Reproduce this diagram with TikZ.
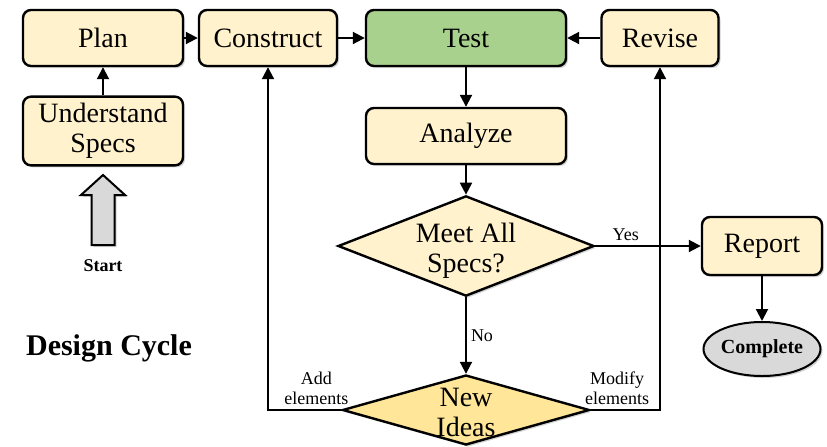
\documentclass[tikz,border=0pt]{standalone}
\usepackage{fontspec}
\setmainfont{Liberation Serif}
\usetikzlibrary{positioning,shapes.geometric,shadows,arrows.meta}

\definecolor{boxfill}{HTML}{FFF2CC}
\definecolor{testfill}{HTML}{A9D18E}
\definecolor{ideafill}{HTML}{FFE699}
\definecolor{endfill}{HTML}{D9D9D9}

\newcommand{\twolines}[2]{\smash{\raisebox{-6.5pt}{\begin{tabular}{@{}c@{}}#1\\#2\end{tabular}}}}

\tikzset{
  stage/.style={draw, line width=1.2pt, rounded corners=4pt, fill=boxfill,
    minimum height=28pt, align=center, font=\fontsize{14}{15}\selectfont,
    drop shadow={opacity=0.35, shadow xshift=1pt, shadow yshift=-1pt}},
  decision/.style={diamond, draw, line width=1.2pt, fill=boxfill, inner sep=0pt,
    font=\fontsize{14}{15}\selectfont,
    drop shadow={opacity=0.35, shadow xshift=1pt, shadow yshift=-1pt}},
  flow/.style={line width=1pt, -{Triangle[length=6pt,width=6pt]}},
  lbl/.style={font=\fontsize{9}{10}\selectfont, align=center, inner sep=2pt}
}

\begin{document}
\begin{tikzpicture}[node distance=2cm, on grid]
  \useasboundingbox (0,0) rectangle (413.5pt,-223pt);

  % top row
  \node[stage, minimum width=80pt] (plan) at (51.5pt,-19pt) {Plan};
  \node[stage, minimum width=69pt] (construct) [right=82.5pt of plan] {Construct};
  \node[stage, minimum width=100pt, fill=testfill] (test) [right=99pt of construct] {Test};
  \node[stage, minimum width=58.5pt] (revise) [right=97pt of test] {Revise};

  \node[stage, minimum width=80pt, minimum height=34pt] (specs) [below=46.5pt of plan] {Understand\\Specs};
  \node[stage, minimum width=100pt] (analyze) [below=49pt of test] {Analyze};

  % decisions
  \node[decision, minimum width=128pt, minimum height=44pt] (meet) [below=55pt of analyze] {\twolines{Meet All}{Specs?}};
  \node[decision, fill=ideafill, minimum width=123.5pt, minimum height=35pt] (ideas) [below=82pt of meet] {\twolines{New}{Ideas}};

  \node[stage, minimum width=60pt, minimum height=29pt] (report) [right=148pt of meet] {Report};
  \node[ellipse, draw, fill=endfill, line width=1pt, inner sep=0pt, minimum width=58.5pt, minimum height=27pt,
    font=\bfseries\fontsize{10}{11}\selectfont,
    drop shadow={opacity=0.35, shadow xshift=1pt, shadow yshift=-1pt}] (complete) [below=51.5pt of report] {Complete};

  % start
  \coordinate[below=39.5pt of specs] (startarrow);
  \draw[fill=endfill, line width=1pt, drop shadow={opacity=0.35, shadow xshift=1pt, shadow yshift=-1pt}]
    ([yshift=17.5pt]startarrow) -- ++(11pt,-10pt) -- ++(-5.25pt,0) -- ++(0,-25pt)
    -- ++(-11.5pt,0) -- ++(0,25pt) -- ++(-5.25pt,0) -- cycle;
  \node[font=\bfseries\fontsize{9}{10}\selectfont] (start) [below=21.5pt of startarrow] {Start};
  \node[font=\bfseries\fontsize{15}{17}\selectfont] (title) [below=41pt of start, xshift=3pt] {Design Cycle};

  \draw[flow] (specs) -- (plan);
  \draw[flow] (plan) -- (construct);
  \draw[flow] (construct) -- (test);
  \draw[flow] (revise) -- (test);
  \draw[flow] (test) -- (analyze);
  \draw[flow] (analyze) -- (meet);
  \draw[flow] (meet) -- node[lbl, pos=0.29, above] {Yes} (report);
  \draw[flow] (meet) -- node[lbl, right] {No} (ideas);
  \draw[flow] (report) -- (complete);
  \draw[flow] (ideas.west) -| node[lbl, pos=0.17, above] {Add\\elements} (construct);
  \draw[flow] (ideas.east) -| node[lbl, pos=0.19, above] {Modify\\elements} (revise);
\end{tikzpicture}
\end{document}
